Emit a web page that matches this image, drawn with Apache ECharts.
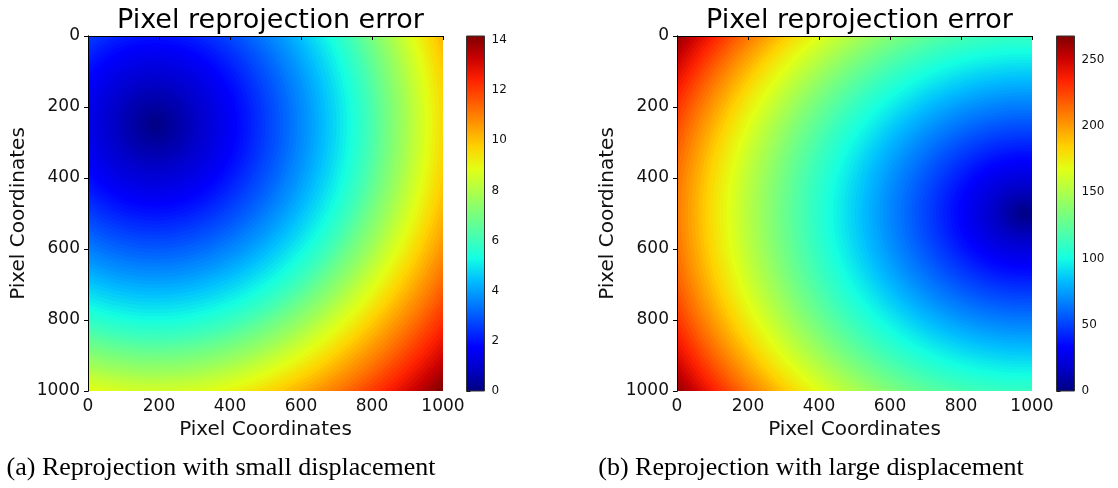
<!DOCTYPE html>
<html>
<head>
<meta charset="utf-8">
<title>Pixel reprojection error</title>
<script src="https://cdn.jsdelivr.net/npm/echarts@6.0.0/dist/echarts.min.js"></script>
<style>body{margin:0;background:#fff}</style>
</head>
<body>
<div id="main" style="width:1118px;height:488px"></div>
<script>
// error read along the horizontal ray leaving the minimum of each map (radius in image pixels)
var ringRadius = [0,
  10, 20, 30, 40, 50, 60, 70, 80, 90, 100,
  110, 120, 130, 140, 150, 160, 170, 180, 190, 200,
  210, 220, 230, 240, 250, 260, 270, 280, 290, 300,
  310, 320, 330, 340, 350, 360, 370, 380, 390, 400,
  410, 420, 430, 440, 450, 460, 470, 480, 490, 500,
  510, 520, 530, 540, 550, 560, 570, 580, 590, 600,
  610, 620, 630, 640, 650, 660, 670, 680, 690, 700,
  710, 720, 730, 740, 750, 760, 770, 780, 790, 800,
  810, 820, 830, 840, 850, 860, 870, 880, 890, 900,
  910, 920, 930, 940, 950, 960, 970, 980, 990, 1000,
  1010, 1020, 1030, 1040, 1050, 1060, 1070, 1080, 1090, 1100,
  1110, 1120, 1130, 1140, 1150, 1160, 1170, 1180, 1190];
var errorSmall = [0,
  0.07, 0.14, 0.21, 0.28, 0.35, 0.42, 0.49, 0.56, 0.63, 0.70,
  0.78, 0.86, 0.94, 1.02, 1.10, 1.18, 1.26, 1.34, 1.42, 1.50,
  1.59, 1.68, 1.77, 1.86, 1.96, 2.05, 2.15, 2.25, 2.35, 2.45,
  2.55, 2.65, 2.75, 2.85, 2.95, 3.05, 3.15, 3.26, 3.37, 3.48,
  3.59, 3.70, 3.81, 3.92, 4.04, 4.16, 4.28, 4.40, 4.52, 4.64,
  4.76, 4.88, 5.00, 5.13, 5.27, 5.41, 5.55, 5.69, 5.83, 5.97,
  6.13, 6.30, 6.47, 6.64, 6.81, 6.97, 7.13, 7.29, 7.45, 7.61,
  7.78, 7.96, 8.13, 8.31, 8.49, 8.65, 8.82, 8.99, 9.15, 9.31,
  9.48, 9.64, 9.81, 9.97, 10.13, 10.29, 10.44, 10.60, 10.75, 10.90,
  11.06, 11.21, 11.37, 11.52, 11.68, 11.83, 11.98, 12.14, 12.29, 12.45,
  12.61, 12.77, 12.93, 13.09, 13.25, 13.42, 13.59, 13.76, 13.93, 14.10,
  14.27, 14.44, 14.61, 14.78, 14.95, 15.12, 15.29, 15.46, 15.63];
var errorLarge = [0,
  1.8, 3.6, 5.4, 7.2, 9.0, 10.8, 12.6, 14.4, 16.2, 18.0,
  19.8, 21.6, 23.4, 25.2, 27.0, 28.8, 30.6, 32.4, 34.2, 36.0,
  37.8, 39.6, 41.4, 43.2, 45.0, 46.8, 48.6, 50.4, 52.2, 54.0,
  55.8, 57.6, 59.4, 61.2, 63.0, 64.8, 66.6, 68.4, 70.2, 72.0,
  73.8, 75.7, 77.6, 79.5, 81.4, 83.3, 85.2, 87.1, 89.0, 90.9,
  92.8, 94.7, 96.6, 98.5, 100.4, 102.3, 104.3, 106.3, 108.3, 110.3,
  112.4, 114.5, 116.7, 118.9, 121.1, 123.3, 125.5, 127.8, 130.1, 132.4,
  134.8, 137.2, 139.6, 142.0, 144.5, 147.0, 149.5, 152.0, 154.5, 157.0,
  159.6, 162.2, 164.8, 167.4, 170.0, 172.7, 175.5, 178.3, 181.1, 184.0,
  187.0, 190.0, 193.0, 196.0, 199.0, 202.0, 205.0, 208.0, 211.1, 214.2,
  217.3, 220.4, 223.6, 226.8, 230.0, 233.3, 236.6, 239.9, 243.2, 246.5,
  249.8, 253.1, 256.4, 259.7, 263.0, 266.3, 269.6, 272.9, 276.2];
var centerSmall = [190, 250];
var centerLarge = [980, 500];
// contours are squeezed vertically by this factor
var squeezeSmall = 1.0;
var squeezeLarge = 1.2;
var axisTicks = [0, 200, 400, 600, 800, 1000];
var cbarTicksSmall = [0, 2, 4, 6, 8, 10, 12, 14];
var cbarTicksLarge = [0, 50, 100, 150, 200, 250];
var cbarMaxSmall = 14.16;
var cbarMaxLarge = 268;
var titles = ['Pixel reprojection error', 'Pixel reprojection error'];
var captions = ['(a) Reprojection with small displacement', '(b) Reprojection with large displacement'];

// matplotlib "jet"
var jet = ['#000080', '#0000c8', '#0000ff', '#0040ff', '#0080ff', '#00bfff', '#14ffe2', '#48ffaf', '#7bff7b',
  '#afff48', '#e2ff15', '#ffd200', '#ff9700', '#ff5c00', '#ff2100', '#c80000', '#800000'];
var jetStops = jet.map(function (c, i) { return { offset: i / (jet.length - 1), color: c }; });

var font = 'DejaVu Sans';
var ink = '#111';

// biggest ring first so the smaller ones are painted over it
function rings(center, squeeze, values) {
  var out = [];
  for (var i = ringRadius.length - 1; i >= 0; i--) {
    out.push([center[0], center[1], ringRadius[i], ringRadius[i] / squeeze, values[i]]);
  }
  return out;
}

function renderRing(params, api) {
  var c = api.coord([api.value(0), api.value(1)]);
  var s = api.size([api.value(2), api.value(3)]);
  return {
    type: 'ellipse',
    shape: { cx: c[0], cy: c[1], rx: Math.abs(s[0]), ry: Math.abs(s[1]) },
    style: { fill: api.visual('color') }
  };
}

function renderBar(params, api) {
  var p0 = api.coord([0, api.value(1)]);
  var p1 = api.coord([1, 0]);
  return {
    type: 'rect',
    shape: { x: p0[0], y: p0[1], width: p1[0] - p0[0], height: p1[1] - p0[1] },
    style: { fill: new echarts.graphic.LinearGradient(0, 1, 0, 0, jetStops), stroke: '#333', lineWidth: 1 }
  };
}

var grids = [
  { left: 88, top: 36, width: 355, height: 355 },
  { left: 466.5, top: 36, width: 18, height: 355 },
  { left: 677, top: 36, width: 355, height: 355 },
  { left: 1056.5, top: 36, width: 18, height: 355 }
];

function plain(v) { return String(v); }

function mainX(g) {
  return [{
    gridIndex: g, type: 'value', min: 0, max: 1000, position: 'bottom', z: 10,
    name: 'Pixel Coordinates', nameLocation: 'middle', nameGap: 28,
    nameTextStyle: { fontFamily: font, fontSize: 20, color: ink },
    axisLine: { show: true, lineStyle: { color: '#000', width: 1 } },
    axisTick: { show: true, length: 4, lineStyle: { color: '#000' }, customValues: axisTicks },
    axisLabel: { fontFamily: font, fontSize: 17, color: ink, margin: 7, customValues: axisTicks, formatter: plain },
    splitLine: { show: false }
  }, {
    gridIndex: g, type: 'value', min: 0, max: 1000, position: 'top', z: 10,
    axisLine: { show: true, lineStyle: { color: '#000', width: 1 } },
    axisTick: { show: false }, axisLabel: { show: false }, splitLine: { show: false }
  }];
}
function mainY(g) {
  return [{
    gridIndex: g, type: 'value', min: 0, max: 1000, inverse: true, position: 'left', z: 10,
    name: 'Pixel Coordinates', nameLocation: 'middle', nameGap: 59,
    nameTextStyle: { fontFamily: font, fontSize: 20, color: ink },
    axisLine: { show: true, lineStyle: { color: '#000', width: 1 } },
    axisTick: { show: true, length: 4, lineStyle: { color: '#000' }, customValues: axisTicks },
    axisLabel: { fontFamily: font, fontSize: 17, color: ink, margin: 8, customValues: axisTicks, formatter: plain },
    splitLine: { show: false }
  }, {
    gridIndex: g, type: 'value', min: 0, max: 1000, inverse: true, position: 'right', z: 10,
    axisLine: { show: true, lineStyle: { color: '#000', width: 1 } },
    axisTick: { show: false }, axisLabel: { show: false }, splitLine: { show: false }
  }];
}
function barX(g) {
  return { gridIndex: g, type: 'value', min: 0, max: 1, show: false };
}
function barY(g, max, ticks) {
  return {
    gridIndex: g, type: 'value', min: 0, max: max, position: 'right',
    axisLine: { show: false },
    axisTick: { show: true, length: 4, lineStyle: { color: '#000' }, customValues: ticks },
    axisLabel: { fontFamily: font, fontSize: 12, color: ink, margin: 7, customValues: ticks },
    splitLine: { show: false }
  };
}

var option = {
  animation: false,
  backgroundColor: '#fff',
  title: [
    { text: titles[0], left: 265.5, top: 2, textAlign: 'center', textStyle: { fontFamily: font, fontSize: 27, fontWeight: 'normal', color: '#000' } },
    { text: titles[1], left: 854.5, top: 2, textAlign: 'center', textStyle: { fontFamily: font, fontSize: 27, fontWeight: 'normal', color: '#000' } }
  ],
  grid: grids,
  xAxis: [].concat(mainX(0), [barX(1)], mainX(2), [barX(3)]),
  yAxis: [].concat(mainY(0), [barY(1, cbarMaxSmall, cbarTicksSmall)], mainY(2), [barY(3, cbarMaxLarge, cbarTicksLarge)]),
  visualMap: [
    { type: 'continuous', show: false, seriesIndex: 0, dimension: 4, min: 0, max: cbarMaxSmall, inRange: { color: jet }, outOfRange: { color: '#800000' } },
    { type: 'continuous', show: false, seriesIndex: 2, dimension: 4, min: 0, max: cbarMaxLarge, inRange: { color: jet }, outOfRange: { color: '#800000' } }
  ],
  series: [
    { type: 'custom', xAxisIndex: 0, yAxisIndex: 0, clip: true, silent: true, z: 1, renderItem: renderRing,
      encode: { x: 0, y: 1 }, data: rings(centerSmall, squeezeSmall, errorSmall) },
    { type: 'custom', xAxisIndex: 2, yAxisIndex: 2, silent: true, renderItem: renderBar,
      encode: { x: 0, y: 1 }, data: [[0, cbarMaxSmall]] },
    { type: 'custom', xAxisIndex: 3, yAxisIndex: 3, clip: true, silent: true, z: 1, renderItem: renderRing,
      encode: { x: 0, y: 1 }, data: rings(centerLarge, squeezeLarge, errorLarge) },
    { type: 'custom', xAxisIndex: 5, yAxisIndex: 5, silent: true, renderItem: renderBar,
      encode: { x: 0, y: 1 }, data: [[0, cbarMaxLarge]] }
  ],
  graphic: [
    { type: 'text', x: 221, y: 468, style: { text: captions[0], textAlign: 'center', textVerticalAlign: 'middle', font: '26px "Liberation Serif"', fill: '#000' } },
    { type: 'text', x: 811, y: 468, style: { text: captions[1], textAlign: 'center', textVerticalAlign: 'middle', font: '26px "Liberation Serif"', fill: '#000' } }
  ]
};

var myChart = echarts.init(document.getElementById('main'));
myChart.setOption(option);
</script>
</body>
</html>
